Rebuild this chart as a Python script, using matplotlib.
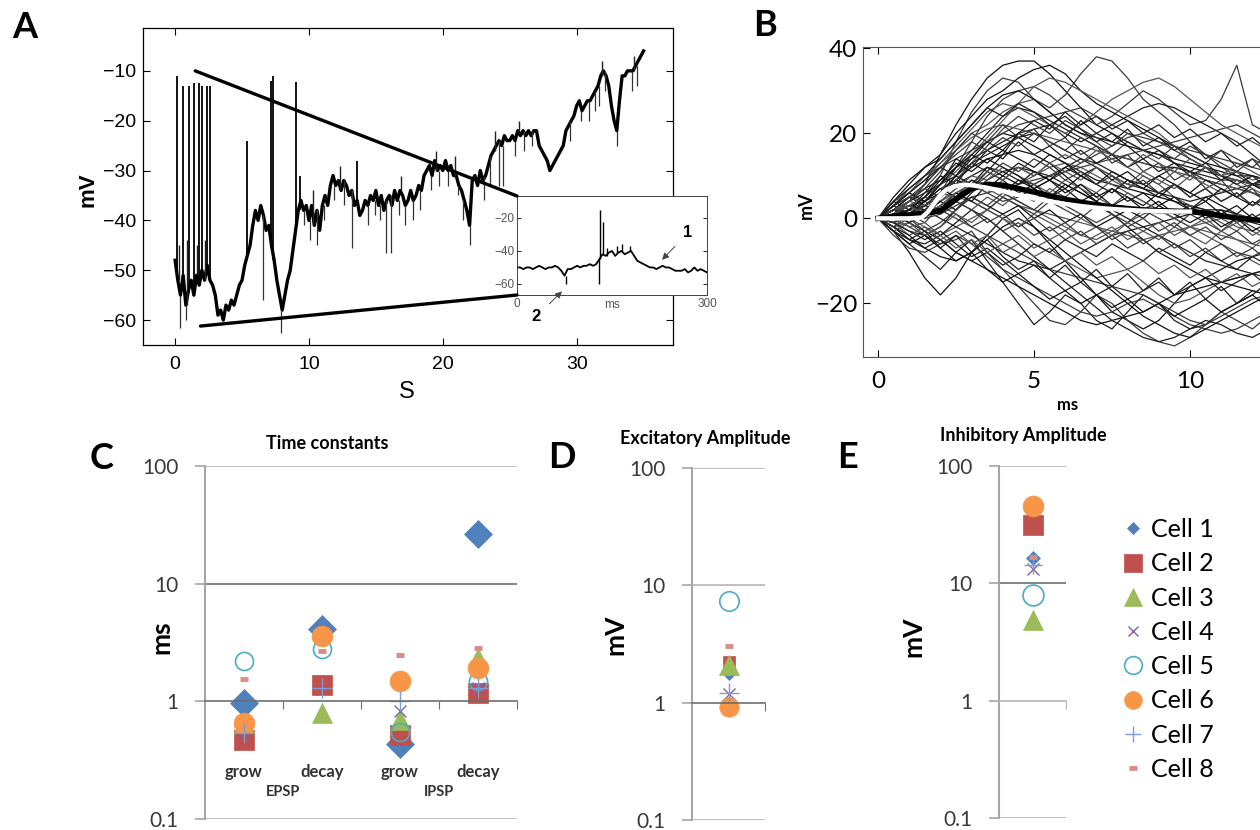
import numpy as np
import matplotlib.pyplot as plt
from matplotlib.patches import ConnectionPatch
from matplotlib.ticker import NullLocator

plt.rcParams['font.family'] = ['Lato', 'DejaVu Sans']

# ---------- A: membrane potential during the recording (one sample per 0.2 s)
vm_step = 0.2
vm = [
    -48, -52, -55, -51, -57, -54, -52, -55, -51, -53,
    -50, -52, -49, -52, -53, -55, -59, -58, -60, -57,
    -58, -56, -57, -55, -53, -52, -49, -47, -45, -41,
    -38, -40, -37, -39, -42, -41, -45, -48, -52, -55,
    -58, -55, -52, -50, -46, -42, -38, -36, -38, -37,
    -40, -37, -41, -38, -42, -37, -35, -37, -33, -31,
    -33, -32, -34, -32, -33, -35, -34, -37, -36, -39,
    -38, -36, -37, -35, -36, -34, -37, -35, -38, -36,
    -35, -37, -34, -36, -34, -35, -37, -36, -34, -36,
    -35, -33, -34, -31, -30, -29, -31, -28, -30, -29,
    -30, -28, -30, -29, -31, -31, -33, -34, -36, -38,
    -41, -32, -31, -33, -30, -32, -31, -29, -27, -26,
    -25, -24, -25, -23, -24, -24, -23, -24, -22, -23,
    -22, -23, -22, -23, -22, -22, -25, -26, -27, -28,
    -30, -29, -28, -27, -26, -25, -22, -21, -20, -19,
    -17, -16, -18, -17, -16, -16, -15, -14, -13, -11,
    -10, -11, -13, -17, -20, -22, -16, -11, -11, -10,
    -10, -10, -9, -8, -7, -6,
]
# action potentials (time s, peak mV)
ap_t = [0.12, 0.62, 1.05, 1.42, 1.82, 2.04, 2.37, 2.6, 5.35, 7.14, 7.34, 9.0, 9.3, 13.56]
ap_peak = [-11, -13, -13, -12.5, -12.5, -13, -13, -13, -24, -12, -11, -12.3, -31, -28]
# short upward and downward transients riding on the trace
blip_t = [0.3, 0.9, 1.6, 2.2, 10.3, 12.3, 16.9, 19.5, 20.9, 23.9, 25.7, 31.9, 34.3]
blip_peak = [-45, -44, -45, -44, -34, -29, -31, -26, -27, -22, -20, -8, -7]
dip_t = [0.35, 0.8, 6.54, 7.9, 9.6, 10.1, 10.6, 11.1, 11.9, 12.6, 13.2, 14.4, 14.9,
         15.3, 15.75, 16.1, 16.7, 17.2, 17.8, 18.3, 19.1, 19.7, 20.4, 21.1, 21.5, 22.05,
         23.1, 23.5, 24.2, 24.5, 25.4, 26.1, 26.7, 29.5, 30.3, 30.9, 31.4, 31.7, 32.1,
         33.0, 34.1, 34.5]
dip_low = [-61.5, -60, -56, -62.5, -41, -44, -45, -40, -36, -37, -45.5, -41, -39,
           -40, -46.5, -46.5, -39, -41, -40, -38, -34, -33, -33, -35, -40, -45,
           -36, -33, -33, -33, -27, -26, -25, -24, -20, -20, -18, -17, -14,
           -25, -14, -13]

# inset: 300 ms window, one sample per 5 ms
inset_step = 5
inset_vm = [
    -50, -50, -51, -50, -50, -51, -50, -49, -50, -51,
    -50, -50, -49, -50, -52, -55, -51, -51, -50, -49,
    -50, -49, -49, -48, -49, -48, -45, -42, -43, -41,
    -40, -43, -41, -40, -42, -41, -40, -43, -46, -47,
    -48, -49, -50, -50, -51, -50, -49, -50, -50, -51,
    -52, -52, -52, -51, -53, -52, -50, -52, -51, -52, -53,
]
inset_up_t = [131, 136.5, 142, 158, 165, 178]
inset_up_peak = [-15, -22.5, -38, -37, -36, -37]
inset_down_t = [77, 130]
inset_down_low = [-60, -60]

# ---------- B: single sweeps aligned on event onset (one sample per 0.5 ms)
sweep_step = 0.5
sweeps = [
    [0, 2, 4, 8, 15, 22, 28, 33, 36, 37, 37, 34, 30, 26, 22, 20, 18, 16, 15, 13, 12, 11, 10, 9, 8, 7],
    [0, 1, 3, 5, 10, 18, 25, 30, 33, 32, 28, 26, 29, 34, 38, 37, 33, 28, 25, 22, 18, 15, 12, 10, 8, 6],
    [0, -3, -6, -9, -12, -8, -5, -10, -15, -20, -25, -22, -18, -20, -24, -26, -22, -18, -20, -24, -26, -25, -22, -20, -18, -15],
    [0, 3, 6, 10, 13, 16, 20, 22, 25, 27, 28, 25, 22, 20, 18, 15, 12, 10, 8, 5, 3, 2, 0, -2, -3, -5],
    [0, -3, -8, -14, -18, -14, -8, -4, 0, 2, -2, -6, -10, -14, -18, -22, -24, -26, -24, -20, -16, -14, -12, -10, -9, -8],
    [0, 1, 2, 3, 6, 12, 18, 24, 28, 30, 31, 29, 26, 24, 22, 24, 27, 30, 28, 25, 22, 23, 28, 36, 22, 20],
    [0, 2, 1, 3, 5, 8, 10, 12, 11, 9, 8, 10, 12, 14, 13, 11, 9, 8, 10, 12, 11, 9, 8, 7, 6, 5],
    [0, -1, 0, 2, 4, 7, 9, 8, 6, 4, 2, 0, -2, -4, -5, -3, -1, 1, 2, 0, -2, -3, -4, -5, -6, -7],
    [0, 4, 8, 12, 15, 20, 24, 28, 30, 33, 35, 36, 34, 30, 27, 25, 23, 21, 19, 17, 15, 13, 12, 11, 10, 9],
    [0, 0, -2, -4, -6, -5, -3, -8, -12, -16, -20, -24, -25, -22, -18, -20, -24, -27, -29, -30, -28, -25, -22, -24, -26, -23],
    [0, 2, 5, 7, 9, 12, 14, 16, 18, 20, 21, 22, 20, 18, 20, 22, 24, 26, 27, 26, 24, 22, 20, 18, 15, 12],
    [0, -2, -1, 1, 3, 5, 4, 2, 0, -3, -6, -8, -10, -12, -14, -13, -12, -15, -18, -20, -19, -17, -15, -14, -13, -12],
    [0, 1, 3, 4, 6, 10, 15, 18, 20, 19, 17, 15, 13, 11, 9, 8, 7, 6, 5, 4, 3, 2, 2, 1, 0, -1],
    [0, 3, 5, 4, 2, 0, -2, -4, -6, -8, -10, -12, -13, -14, -15, -16, -17, -18, -20, -22, -24, -25, -23, -21, -19, -18],
    [0, -1, 2, 5, 8, 12, 16, 20, 24, 26, 25, 23, 21, 19, 17, 15, 14, 13, 12, 12, 11, 10, 9, 9, 8, 8],
    [0, 1, 0, -2, -4, -2, 0, 2, 5, 8, 10, 12, 13, 12, 10, 8, 6, 4, 2, 0, -2, -4, -6, -8, -10, -12],
    [0, 5, 9, 12, 14, 18, 22, 26, 29, 30, 28, 25, 22, 20, 19, 18, 17, 16, 15, 14, 13, 12, 11, 10, 10, 9],
    [0, -4, -7, -8, -6, -4, -6, -9, -12, -14, -16, -18, -20, -22, -23, -22, -20, -19, -21, -23, -25, -26, -27, -26, -24, -22],
    [0, 2, 4, 6, 8, 10, 13, 15, 17, 19, 20, 18, 16, 14, 12, 10, 8, 7, 6, 5, 4, 5, 6, 7, 8, 9],
    [0, 0, 1, 2, 4, 6, 8, 7, 5, 3, 2, 1, 0, -1, -2, -3, -4, -5, -4, -3, -2, -1, 0, 1, 0, -1],
    [0, 1, -1, -3, -5, -8, -10, -12, -14, -16, -18, -20, -22, -24, -25, -24, -23, -22, -20, -18, -17, -16, -15, -14, -13, -12],
    [0, 3, 7, 10, 12, 14, 16, 18, 20, 22, 23, 24, 25, 26, 24, 22, 20, 19, 18, 17, 16, 15, 14, 13, 12, 11],
    [0, -1, -3, -4, -2, 2, 6, 9, 11, 12, 11, 10, 8, 6, 4, 2, 0, -2, -4, -6, -8, -10, -11, -12, -13, -14],
    [0, 2, 3, 5, 8, 11, 15, 19, 23, 27, 31, 33, 32, 30, 28, 26, 24, 22, 20, 17, 14, 12, 10, 9, 8, 7],
    [0, -2, -5, -7, -9, -10, -8, -5, -2, 0, -2, -5, -8, -11, -14, -17, -20, -23, -25, -27, -28, -26, -24, -22, -20, -18],
    [0, 1, 2, 4, 7, 9, 8, 6, 4, 5, 7, 9, 11, 13, 15, 17, 19, 20, 18, 16, 14, 12, 10, 8, 6, 4],
    [0, 2, 3, 2, 0, -2, -4, -6, -8, -10, -11, -12, -10, -8, -6, -4, -3, -2, -1, 0, 1, 2, 1, 0, -1, -2],
    [0, 1, 4, 8, 12, 16, 19, 21, 22, 21, 20, 19, 18, 17, 16, 15, 14, 13, 12, 11, 10, 9, 8, 7, 6, 5],
    [0, -1, 1, 3, 6, 9, 12, 14, 15, 16, 15, 13, 10, 7, 4, 1, -2, -5, -8, -10, -12, -14, -15, -16, -17, -18],
    [0, 2, 1, 0, 1, 3, 5, 6, 7, 8, 9, 10, 11, 12, 13, 14, 15, 16, 17, 18, 19, 20, 21, 22, 20, 18],
    [0, -3, -5, -6, -4, -1, 2, 0, -3, -6, -9, -12, -15, -18, -21, -24, -26, -28, -29, -28, -26, -24, -25, -27, -28, -26],
    [0, 4, 6, 9, 13, 17, 21, 25, 27, 26, 24, 22, 20, 22, 25, 28, 30, 32, 33, 31, 28, 25, 22, 20, 18, 16],
    [0, 2, 5, 3, 6, 10, 8, 12, 10, 13, 11, 9, 12, 10, 8, 11, 9, 7, 10, 8, 6, 9, 7, 5, 8, 6],
    [0, -2, 1, -1, 3, 6, 4, 2, 5, 3, 1, 4, 2, 0, 3, 1, -1, 2, 0, -2, 1, -1, -3, 0, -2, -4],
    [0, 3, 1, 4, 8, 14, 12, 16, 14, 18, 15, 17, 14, 16, 13, 15, 12, 14, 11, 13, 10, 12, 9, 11, 8, 10],
    [0, -1, -4, -2, -5, -3, -6, -4, -8, -6, -9, -7, -10, -8, -11, -9, -12, -10, -13, -11, -14, -12, -15, -13, -16, -14],
    [0, 1, 3, 2, 5, 9, 7, 11, 9, 6, 8, 5, 7, 4, 6, 3, 5, 2, 4, 1, 3, 0, 2, -1, 1, -2],
    [0, 2, 4, 7, 11, 16, 20, 18, 22, 19, 21, 17, 19, 15, 17, 13, 15, 11, 13, 9, 11, 7, 9, 5, 7, 3],
    [0, -2, -5, -3, -7, -4, -8, -5, -9, -12, -10, -14, -11, -15, -12, -16, -13, -17, -14, -18, -15, -19, -16, -20, -17, -18],
    [0, 1, 0, 2, 1, 4, 2, 5, 3, 6, 4, 7, 5, 8, 6, 9, 7, 10, 8, 11, 9, 12, 10, 11, 9, 10],
    [0, 3, 6, 4, 8, 12, 15, 13, 16, 14, 12, 15, 13, 10, 12, 9, 11, 8, 6, 8, 5, 7, 4, 6, 3, 5],
    [0, -1, 2, 0, 3, 1, -2, 0, -3, -1, -4, -2, -5, -3, -6, -4, -7, -5, -8, -6, -9, -7, -10, -8, -9, -7],
    [0, 4, 2, 6, 10, 8, 13, 11, 15, 20, 18, 22, 19, 23, 20, 18, 21, 17, 19, 16, 18, 14, 16, 12, 14, 10],
    [0, -3, -1, -4, -2, 1, -1, 2, 0, -2, 1, -1, -3, 0, -2, -4, -1, -3, -5, -2, -4, -6, -3, -5, -7, -4],
    [0, 2, 1, 3, 2, 6, 4, 8, 6, 9, 7, 5, 8, 6, 4, 7, 5, 3, 6, 4, 2, 5, 3, 1, 4, 2],
    [0, 1, 4, 7, 5, 9, 13, 17, 21, 24, 22, 20, 23, 21, 19, 17, 20, 18, 16, 14, 17, 15, 13, 11, 14, 12],
    [0, -2, -4, -7, -5, -8, -10, -8, -11, -9, -6, -8, -5, -7, -9, -6, -8, -10, -7, -9, -11, -8, -10, -12, -9, -11],
    [0, 2, 3, 5, 4, 7, 10, 9, 12, 10, 8, 6, 9, 7, 5, 3, 6, 4, 2, 0, 3, 1, -1, -3, 0, -2],
    [0, 1, -1, 1, 4, 2, 5, 3, 1, 3, 0, 2, -1, 1, -2, 0, 2, 0, 3, 1, -1, 1, -2, 0, -3, -1],
    [0, 3, 5, 8, 12, 15, 18, 16, 19, 17, 20, 18, 16, 19, 17, 15, 18, 16, 14, 17, 15, 13, 16, 14, 12, 15],
    [0, -1, -3, -5, -3, -6, -9, -7, -10, -13, -11, -14, -17, -15, -18, -16, -19, -17, -15, -18, -16, -14, -17, -15, -13, -16],
    [0, 2, 4, 3, 6, 5, 8, 11, 9, 12, 10, 13, 11, 9, 12, 10, 8, 11, 9, 7, 10, 8, 6, 9, 7, 5],
    [0, 1, 2, 5, 9, 13, 11, 14, 12, 10, 7, 9, 6, 8, 5, 7, 4, 6, 3, 5, 2, 4, 1, 3, 0, 2],
    [0, -2, 0, -3, -1, 2, 5, 3, 6, 4, 2, 5, 3, 1, -1, 1, -2, 0, -3, -1, -4, -2, -5, -3, -6, -4],
    [0, 3, 6, 9, 12, 10, 14, 18, 16, 20, 23, 21, 25, 22, 24, 21, 23, 20, 22, 19, 21, 18, 20, 17, 19, 16],
    [0, 0, -2, -1, -4, -7, -5, -8, -6, -4, -7, -5, -3, -6, -4, -2, -5, -3, -1, -4, -2, 0, -3, -1, -4, -2],
    [0, 2, 1, 4, 7, 5, 9, 7, 10, 8, 11, 9, 7, 10, 8, 6, 9, 7, 5, 8, 6, 4, 7, 5, 3, 6],
    [0, -1, 1, 3, 1, 4, 2, -1, 1, -2, 0, -3, -1, -4, -2, -5, -3, -6, -4, -7, -5, -8, -6, -9, -7, -10],
    [0, 4, 7, 10, 14, 18, 22, 26, 24, 27, 25, 22, 24, 21, 18, 20, 17, 14, 16, 13, 11, 13, 10, 8, 10, 7],
    [0, 1, 3, 1, 3, 6, 8, 6, 9, 12, 10, 13, 15, 13, 16, 14, 12, 15, 13, 11, 14, 12, 10, 13, 11, 9],
    [0, -3, -6, -4, -7, -10, -8, -12, -15, -13, -16, -19, -17, -20, -18, -21, -19, -22, -20, -23, -21, -19, -22, -20, -18, -21],
    [0, 2, 0, 3, 6, 9, 7, 10, 13, 11, 14, 12, 9, 11, 8, 10, 7, 9, 6, 8, 5, 7, 4, 6, 3, 5],
]
mean_vm = [0, 0.5, 0.8, 1.2, 1.8, 4.5, 7, 8, 7.8, 7, 6.2, 5.3, 4.5, 3.8, 3.2, 2.7,
           2.3, 2.0, 1.8, 1.7, 1.6, 1.2, 0.6, 0.1, -0.3, -0.6]
fit_t = [0, 0.5, 1.0, 1.4, 1.6, 1.8, 2.0, 2.2, 2.5, 2.8, 3.0, 3.5, 4.0, 4.5, 5.0,
         5.5, 6.0, 6.5, 7.0, 7.5, 8.0, 8.5, 9.0, 9.5, 10.0]
fit_vm = [0, 0, 0, 0.2, 1.5, 3.5, 5.5, 6.8, 7.6, 7.9, 7.8, 7.2, 6.4, 5.5, 4.7,
          4.0, 3.4, 2.9, 2.5, 2.2, 2.0, 1.8, 1.7, 1.6, 1.6]

# ---------- C-E: per-cell fit parameters
cells = ['Cell 1', 'Cell 2', 'Cell 3', 'Cell 4', 'Cell 5', 'Cell 6', 'Cell 7', 'Cell 8']
tau_labels = ['grow', 'decay', 'grow', 'decay']
tau_groups = ['EPSP', 'IPSP']
tau_ms = [
    [0.97, 4.1, 0.43, 26.6],
    [0.47, 1.39, 0.52, 1.18],
    [0.66, 0.79, 0.70, 2.35],
    [0.55, 4.0, 0.82, 1.3],
    [2.2, 2.77, 0.55, 1.5],
    [0.65, 3.6, 1.48, 1.93],
    [0.54, 1.3, 1.0, 1.3],
    [1.55, 2.67, 2.46, 2.82],
]
exc_mv = [1.75, 2.2, 2.09, 1.18, 7.4, 0.92, 1.2, 3.05]
inh_mv = [16.5, 31.4, 4.9, 13.2, 7.95, 45.7, 14.3, 16.9]

cell_style = [
    dict(marker='D', color='#4F81BD', mec='#4F81BD', mew=0.5),
    dict(marker='s', color='#C0504D', mec='#C0504D', mew=0.5),
    dict(marker='^', color='#9BBB59', mec='#9BBB59', mew=0.5),
    dict(marker='x', color='#8064A2', mew=1.0),
    dict(marker='o', color='#4BACC6', mfc='none', mew=1.2),
    dict(marker='o', color='#F79646', mec='#F79646', mew=0.5),
    dict(marker='+', color='#7F9CD6', mew=1.0),
    dict(marker='_', color='#D98C8A', mew=3.5),
]
sizes_c = [14, 15, 14, 9, 13, 15, 15, 6]
sizes_d = [6, 9, 14, 8, 14, 14, 14, 6]
sizes_e = [7, 15, 15, 9, 15, 15, 13, 6]

W, H = 1260, 830
fig = plt.figure(figsize=(W / 100, H / 100), dpi=100)


def box(left, top, right, bottom):
    return [left / W, 1 - bottom / H, (right - left) / W, (bottom - top) / H]


# ================= A =================
axA = fig.add_axes(box(143, 28, 673, 345))
vm_arr = np.array(vm, dtype=float)
t_arr = np.arange(len(vm_arr)) * vm_step


def on_trace(times):
    return vm_arr[np.rint(np.array(times) / vm_step).astype(int)]


axA.plot(t_arr, vm_arr, color='black', lw=2.4)
axA.vlines(ap_t, on_trace(ap_t), ap_peak, color='black', lw=1.3)
axA.vlines(blip_t, on_trace(blip_t), blip_peak, color='#222222', lw=1.0)
axA.vlines(dip_t, dip_low, on_trace(dip_t), color='#333333', lw=0.9)
axA.set_xlim(-2.4, 37.2)
axA.set_ylim(-65, -1.4)
axA.set_xticks([0, 10, 20, 30])
axA.set_yticks([-60, -50, -40, -30, -20, -10])
axA.tick_params(direction='in', top=True, right=True, length=5, width=0.8,
                labelsize=14, pad=5)
for lab in axA.get_xticklabels() + axA.get_yticklabels():
    lab.set_family(['Liberation Sans', 'DejaVu Sans'])
axA.tick_params(axis='x', pad=8)
for s in axA.spines.values():
    s.set_linewidth(0.9)
axA.set_ylabel('mV', fontsize=16, fontweight='bold', family=['Liberation Sans'])
axA.yaxis.set_label_coords(-0.104, 0.49)
axA.yaxis.label.set_va('center')
axA.set_xlabel('S', fontsize=17, family=['Liberation Sans'])
axA.xaxis.set_label_coords(0.498, -0.148)
axA.xaxis.label.set_va('center')

# inset
axIn = fig.add_axes(box(517, 196, 707, 295))
inset_arr = np.array(inset_vm, dtype=float)
inset_t = np.arange(len(inset_arr)) * inset_step
axIn.plot(inset_t, inset_arr, color='black', lw=1.3)
up_idx = np.rint(np.array(inset_up_t) / inset_step).astype(int)
axIn.vlines(inset_up_t, inset_arr[up_idx], inset_up_peak, color='black', lw=1.0)
dn_idx = np.rint(np.array(inset_down_t) / inset_step).astype(int)
axIn.vlines(inset_down_t, inset_down_low, inset_arr[dn_idx], color='black', lw=1.0)
axIn.set_xlim(0, 300)
axIn.set_ylim(-66.7, -6.7)
axIn.set_xticks([0, 300])
axIn.set_yticks([-60, -40, -20])
axIn.tick_params(direction='in', right=True, length=3, width=0.6, labelsize=8.5,
                 labelcolor='#555555', pad=2)
for lab in axIn.get_xticklabels() + axIn.get_yticklabels():
    lab.set_family(['Liberation Sans', 'DejaVu Sans'])
for s in axIn.spines.values():
    s.set_linewidth(0.7)
    s.set_color('#444444')
axIn.set_xlabel('ms', fontsize=8.5, color='#555555', family=['Liberation Sans'])
axIn.xaxis.set_label_coords(0.5, -0.1)
axIn.xaxis.label.set_va('center')
axIn.annotate('1', xy=(229, -45.4), xytext=(270, -29), fontsize=12, fontweight='bold',
              ha='center', va='center', family=['Liberation Sans'],
              arrowprops=dict(arrowstyle='-|>', color='#444444', lw=0.7,
                              shrinkA=6, shrinkB=0, mutation_scale=10))
axIn.annotate('2', xy=(71, -64.5), xytext=(30, -80), fontsize=12, fontweight='bold',
              ha='center', va='center', family=['Liberation Sans'],
              annotation_clip=False,
              arrowprops=dict(arrowstyle='-|>', color='#444444', lw=0.7,
                              shrinkA=6, shrinkB=0, mutation_scale=10))

# zoom lines from the trace to the inset
for xy_a, xy_b in [((1.5, -10), (0, 1)), ((1.9, -61.2), (0, 0))]:
    con = ConnectionPatch(xyA=xy_a, coordsA=axA.transData, xyB=xy_b,
                          coordsB=axIn.transAxes, color='black', lw=2.4)
    fig.add_artist(con)

# ================= B =================
axB = fig.add_axes(box(863, 47, 1273, 357))
sweep_t = np.arange(len(sweeps[0])) * sweep_step
shades = ['#111111', '#3a3a3a', '#1e1e1e', '#555555']
for i, sw in enumerate(sweeps):
    axB.plot(sweep_t, sw, color=shades[i % len(shades)], lw=0.9)
axB.plot(sweep_t, mean_vm, color='black', lw=4)
axB.plot(fit_t, fit_vm, color='white', lw=3.2)
axB.set_xlim(-0.48, 12.66)
axB.set_ylim(-32.6, 40.3)
axB.set_xticks([0, 5, 10])
axB.set_yticks([-20, 0, 20, 40])
axB.tick_params(direction='in', top=True, right=True, length=5, width=0.8,
                labelsize=17.5, pad=4)
axB.tick_params(axis='x', pad=10)
for s in axB.spines.values():
    s.set_color('#555555')
axB.set_ylabel('mV', fontsize=13, fontweight='bold')
axB.yaxis.set_label_coords(-0.138, 0.49)
axB.yaxis.label.set_va('center')
axB.set_xlabel('ms', fontsize=12, fontweight='bold')
axB.xaxis.set_label_coords(0.499, -0.155)
axB.xaxis.label.set_va('center')


# ================= C, D, E =================
def excel_axes(ax, ncat, dark_lines, light_lines, spine_color):
    ax.set_yscale('log')
    ax.set_ylim(0.1, 100)
    ax.set_xlim(0.5, ncat + 0.5)
    ax.set_yticks([0.1, 1, 10, 100])
    ax.set_yticklabels(['0.1', '1', '10', '100'])
    ax.yaxis.set_minor_locator(NullLocator())
    for v in light_lines:
        ax.axhline(v, color='#b5b5b5', lw=1.2, zorder=0)
    for v in dark_lines:
        ax.axhline(v, color='#6e6e6e', lw=1.2, zorder=0)
    for side in ['top', 'right']:
        ax.spines[side].set_visible(False)
    ax.spines['left'].set_color('#a6a6a6')
    ax.spines['left'].set_linewidth(1.5)
    ax.spines['bottom'].set_position(('data', 1))
    ax.spines['bottom'].set_color(spine_color)
    ax.spines['bottom'].set_linewidth(1.2)
    ax.set_xticks(np.arange(1.5, ncat + 0.6, 1.0))
    ax.tick_params(axis='x', direction='out', length=6, color=spine_color,
                   labelbottom=False)
    ax.tick_params(axis='y', direction='out', length=7, width=1.2, color='#a6a6a6',
                   labelsize=15, labelcolor='#3a3a3a', pad=12)
    ax.patch.set_alpha(0)


def cell_points(ax, xs_list, sizes):
    for i in range(len(cells)):
        ax.plot(xs_list[i][0], xs_list[i][1], ls='none', ms=sizes[i],
                label=cells[i], **cell_style[i])


axC = fig.add_axes(box(205, 466, 517, 819))
excel_axes(axC, 4, dark_lines=[10], light_lines=[0.1, 100], spine_color='#6e6e6e')
cell_points(axC, [(np.arange(1, 5), tau_ms[i]) for i in range(len(cells))], sizes_c)
xt = axC.get_xaxis_transform()
for i, lab in enumerate(tau_labels):
    axC.text(i + 1, 0.133, lab, transform=xt, ha='center', va='center',
             fontsize=12, fontweight='bold', color='#333333')
for j, grp in enumerate(tau_groups):
    axC.text(1.5 + 2 * j, 0.076, grp, transform=xt, ha='center', va='center',
             fontsize=10.5, fontweight='bold', color='#333333')
axC.set_ylabel('ms', fontsize=19, fontweight='bold')
axC.yaxis.set_label_coords(-0.141, 0.516)
axC.yaxis.label.set_va('center')

axD = fig.add_axes(box(692, 468, 765, 820))
excel_axes(axD, 1, dark_lines=[], light_lines=[0.1, 10, 100], spine_color='#6e6e6e')
cell_points(axD, [([1], [exc_mv[i]]) for i in range(len(cells))], sizes_d)
axD.set_ylabel('mV', fontsize=19, fontweight='bold')
axD.yaxis.set_label_coords(-1.05, 0.527)
axD.yaxis.label.set_va('center')

axE = fig.add_axes(box(999, 466, 1066, 818))
excel_axes(axE, 1, dark_lines=[10], light_lines=[0.1, 100], spine_color='#b5b5b5')
cell_points(axE, [([1], [inh_mv[i]]) for i in range(len(cells))], sizes_e)
axE.set_ylabel('mV', fontsize=19, fontweight='bold')
axE.yaxis.set_label_coords(-1.28, 0.516)
axE.yaxis.label.set_va('center')

handles, labels = axE.get_legend_handles_labels()
fig.legend(handles, labels, loc='upper left', bbox_to_anchor=(1120 / W, 1 - 518 / H),
           frameon=False, fontsize=18, markerscale=0.85, handlelength=1.0,
           handletextpad=0.25, labelspacing=0.45, borderpad=0, borderaxespad=0)

# titles and panel letters
fig.text(327 / W, 1 - 443 / H, 'Time constants', ha='center', va='center',
         fontsize=13, fontweight='bold')
fig.text(705 / W, 1 - 438 / H, 'Excitatory Amplitude', ha='center', va='center',
         fontsize=13, fontweight='bold')
fig.text(1023 / W, 1 - 435 / H, 'Inhibitory Amplitude', ha='center', va='center',
         fontsize=13, fontweight='bold')
for letter, x, y in [('A', 25, 27), ('B', 765, 25), ('C', 102, 458),
                     ('D', 562, 457), ('E', 847, 457)]:
    fig.text(x / W, 1 - y / H, letter, ha='center', va='center', fontsize=26,
             fontweight='bold')

fig.savefig('out.png', dpi=100)
